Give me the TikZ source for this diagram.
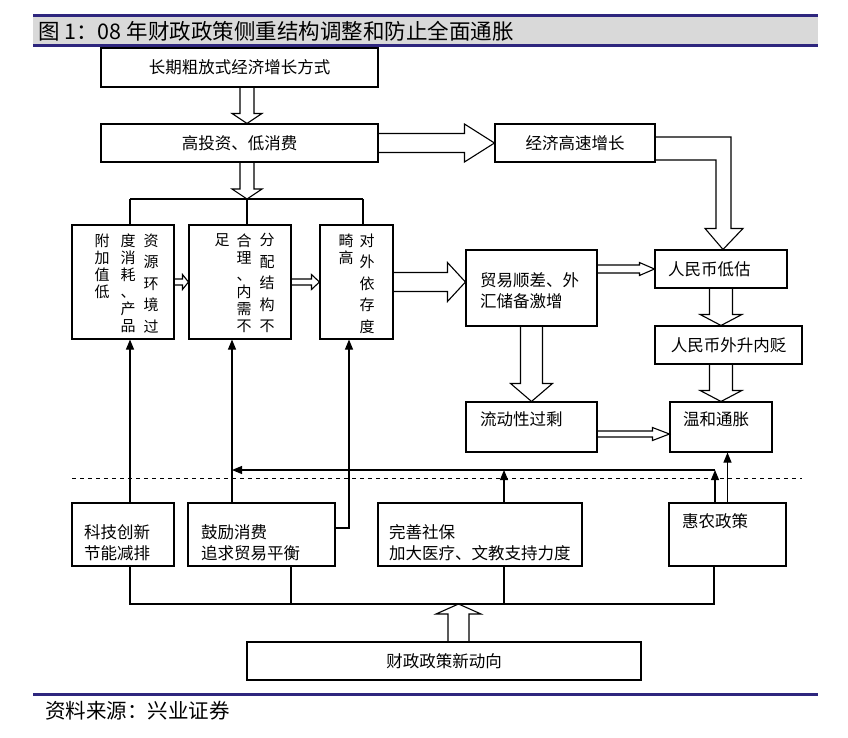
\documentclass[tikz,border=0pt]{standalone}
\usepackage{fontspec}
\setmainfont{Noto Sans CJK SC}
\usetikzlibrary{arrows.meta}
\definecolor{barblue}{RGB}{46,38,126}
\definecolor{bargray}{RGB}{217,217,217}
\newcommand{\bxfont}{\fontsize{16.5}{21}\selectfont}
\newcommand{\fatv}[5]{\draw[fat] ([xshift=-#3]#1) -- ([xshift=-#3,yshift=#5]#2) -- ([xshift=-#4,yshift=#5]#2) -- (#2)
    -- ([xshift=#4,yshift=#5]#2) -- ([xshift=#3,yshift=#5]#2) -- ([xshift=#3]#1);}
\newcommand{\fath}[5]{\draw[fat] ([yshift=#3]#1) -- ([yshift=#3,xshift=-#5]#2) -- ([yshift=#4,xshift=-#5]#2) -- (#2)
    -- ([yshift=-#4,xshift=-#5]#2) -- ([yshift=-#3,xshift=-#5]#2) -- ([yshift=-#3]#1);}

\begin{document}
\begin{tikzpicture}[x=1pt, y=-1pt,
    box/.style={rectangle, draw, line width=1.1pt, inner sep=0pt, font=\bxfont},
    lbox/.style={box, align=left},
    vcol/.style={anchor=north, inner sep=0pt, align=center, font=\fontsize{15}{17}\selectfont},
    wcol/.style={vcol, font=\fontsize{15}{21.5}\selectfont},
    fat/.style={line width=1.1pt, line join=miter},
    link/.style={line width=1.1pt},
    pointer/.style={link, -{Triangle[length=10pt,width=8pt]}}]
    \useasboundingbox (0,0) rectangle (848,737);
    \fill[bargray] (33,16) rectangle (818,45);
    \draw[barblue, line width=3pt] (33,15.5) -- (818,15.5) (33,45.5) -- (818,45.5);
    \node[anchor=west, inner sep=0pt, font=\fontsize{21.5}{24}\selectfont] (title) at (38,31) {图 1：08 年财政政策侧重结构调整和防止全面通胀};

    \node[box, minimum width=277pt, minimum height=39pt] (b1) at (239.5,67.5) {长期粗放式经济增长方式};
    \node[box, minimum width=277pt, minimum height=38pt] (b2) at (239.5,143) {高投资、低消费};
    \node[box, minimum width=160pt, minimum height=38pt] (b3) at (575,143) {经济高速增长};

    \node[box, minimum width=102pt, minimum height=114pt] (v1) at (123,282) {};
    \node[box, minimum width=102pt, minimum height=114pt] (v2) at (240,282) {};
    \node[box, minimum width=73pt, minimum height=114pt] (v3) at (356.5,282) {};
    \node[wcol] (v1a) at ([xshift=28pt,yshift=-9pt]v1.north) {资\\源\\环\\境\\过};
    \node[vcol] (v1b) at ([xshift=5pt,yshift=-9pt]v1.north) {度\\消\\耗\\、\\产\\品};
    \node[vcol] (v1c) at ([xshift=-21pt,yshift=-9pt]v1.north) {附\\加\\值\\低};
    \node[wcol] (v2a) at ([xshift=27pt,yshift=-9pt]v2.north) {分\\配\\结\\构\\不};
    \node[vcol] (v2b) at ([xshift=4pt,yshift=-9pt]v2.north) {合\\理\\、\\内\\需\\不};
    \node[vcol] (v2c) at ([xshift=-18pt,yshift=-9pt]v2.north) {足};
    \node[wcol] (v3a) at ([xshift=10.5pt,yshift=-9pt]v3.north) {对\\外\\依\\存\\度};
    \node[vcol] (v3b) at ([xshift=-10.5pt,yshift=-9pt]v3.north) {畸\\高};

    \node[lbox, text width=103pt, minimum width=131pt, minimum height=76pt, text depth=16pt] (trade) at (531.5,288) {贸易顺差、外\\汇储备激增};
    \node[lbox, text width=106pt, minimum width=132pt, minimum height=38pt] (low) at (721,269) {人民币低估};
    \node[box, minimum width=147pt, minimum height=38pt] (rmb) at (728.5,345) {人民币外升内贬};
    \node[lbox, text width=103pt, minimum width=131pt, minimum height=50pt, text depth=16pt] (liq) at (531.5,427) {流动性过剩};
    \node[lbox, text width=76pt, minimum width=102pt, minimum height=50pt, text depth=16pt] (infl) at (721,427) {温和通胀};

    \node[lbox, text width=78pt, minimum width=102pt, minimum height=63pt, text depth=6pt] (tech) at (123,534.5) {科技创新\\节能减排};
    \node[lbox, text width=121pt, minimum width=147pt, minimum height=63pt, text depth=6pt] (cons) at (261.5,534.5) {鼓励消费\\追求贸易平衡};
    \node[lbox, text width=182pt, minimum width=204pt, minimum height=63pt, text depth=6pt] (soc) at (480,534.5) {完善社保\\加大医疗、文教支持力度};
    \node[lbox, text width=91pt, minimum width=117pt, minimum height=63pt, text depth=27pt] (agri) at (727.5,534.5) {惠农政策};
    \node[box, minimum width=394pt, minimum height=38pt] (fis) at (444,661) {财政政策新动向};

    \coordinate (spl) at (247,199);
    \coordinate (d1) at (130,199);
    \coordinate (d3) at (363,199);
    \draw[link] (d1) -- (d3);
    \draw[link] (d1) -- (d1 |- v1.north);
    \draw[link] (spl) -- (spl |- v2.north);
    \draw[link] (d3) -- (d3 |- v3.north);

    \coordinate (a1s) at (b1.south -| spl);
    \coordinate (a1e) at (b2.north -| spl);
    \coordinate (a2s) at (b2.south -| spl);
    \fatv{a1s}{a1e}{7pt}{15pt}{10pt}
    \fatv{a2s}{spl}{7pt}{15pt}{10pt}
    \fath{b2.east}{b3.west}{9.5pt}{19pt}{30pt}
    \coordinate (tip4) at ([xshift=2pt]low.north);
    \draw[fat] ([yshift=6pt]b3.east) -| ([xshift=8pt,yshift=21pt]tip4) -- ([xshift=20pt,yshift=21pt]tip4) -- (tip4)
        -- ([xshift=-18pt,yshift=21pt]tip4) -- ([xshift=-7pt,yshift=21pt]tip4) |- ([yshift=-17pt]b3.east);
    \fath{v1.east}{v2.west}{3pt}{7.5pt}{6pt}
    \fath{v2.east}{v3.west}{3pt}{7.5pt}{8pt}
    \coordinate (a5e) at (v3.east -| trade.west);
    \fath{v3.east}{a5e}{9.5pt}{19.5pt}{18pt}
    \coordinate (a6s) at (low.west -| trade.east);
    \fath{a6s}{low.west}{4pt}{6.5pt}{15pt}
    \coordinate (a9e) at (rmb.north -| low.south);
    \fatv{low.south}{a9e}{11.5pt}{21pt}{11pt}
    \coordinate (a10s) at (rmb.south -| infl.north);
    \fatv{a10s}{infl.north}{11.5pt}{21pt}{11pt}
    \fatv{trade.south}{liq.north}{11pt}{21pt}{18pt}
    \coordinate (a12s) at ([yshift=-7pt]liq.east);
    \coordinate (a12e) at (a12s -| infl.west);
    \fath{a12s}{a12e}{3pt}{6.5pt}{17pt}

    \draw[dashed, dash pattern=on 4pt off 4pt, line width=1pt] (72,478) -- (802,478);

    \draw[pointer] ([xshift=7pt]tech.north) -- ([xshift=7pt]v1.south);
    \coordinate (c1) at ([xshift=-29.5pt]cons.north);
    \draw[pointer] (c1) -- (c1 |- v2.south);
    \coordinate (c2) at ([xshift=-7.5pt]v3.south);
    \draw[pointer] ([yshift=6.5pt]cons.east) -| (c2);
    \coordinate (bus) at (715,470);
    \coordinate (s1) at ([xshift=24pt]soc.north);
    \coordinate (h1) at ([xshift=-12.5pt]agri.north);
    \draw[pointer] (h1) -- (bus);
    \draw[pointer] (bus) -- (bus -| c1);
    \draw[pointer] (s1) -- (s1 |- bus);
    \draw[pointer] (agri.north) -- (agri.north |- infl.south);

    \coordinate (fb) at (458.5,604);
    \coordinate (q1) at ([xshift=7pt]tech.south);
    \coordinate (q2) at ([xshift=29.5pt]cons.south);
    \coordinate (q3) at ([xshift=24pt]soc.south);
    \coordinate (q4) at ([xshift=-13.5pt]agri.south);
    \draw[link] (q1) |- (fb) -| (q4);
    \draw[link] (q2) -- (q2 |- fb);
    \draw[link] (q3) -- (q3 |- fb);
    \coordinate (a13s) at (fb |- fis.north);
    \fatv{a13s}{fb}{10.5pt}{22.5pt}{-10pt}

    \draw[barblue, line width=3pt] (33,694) -- (818,694);
    \node[anchor=west, inner sep=0pt, font=\fontsize{20.5}{24}\selectfont] (src) at (45,711) {资料来源：兴业证券};
\end{tikzpicture}
\end{document}
